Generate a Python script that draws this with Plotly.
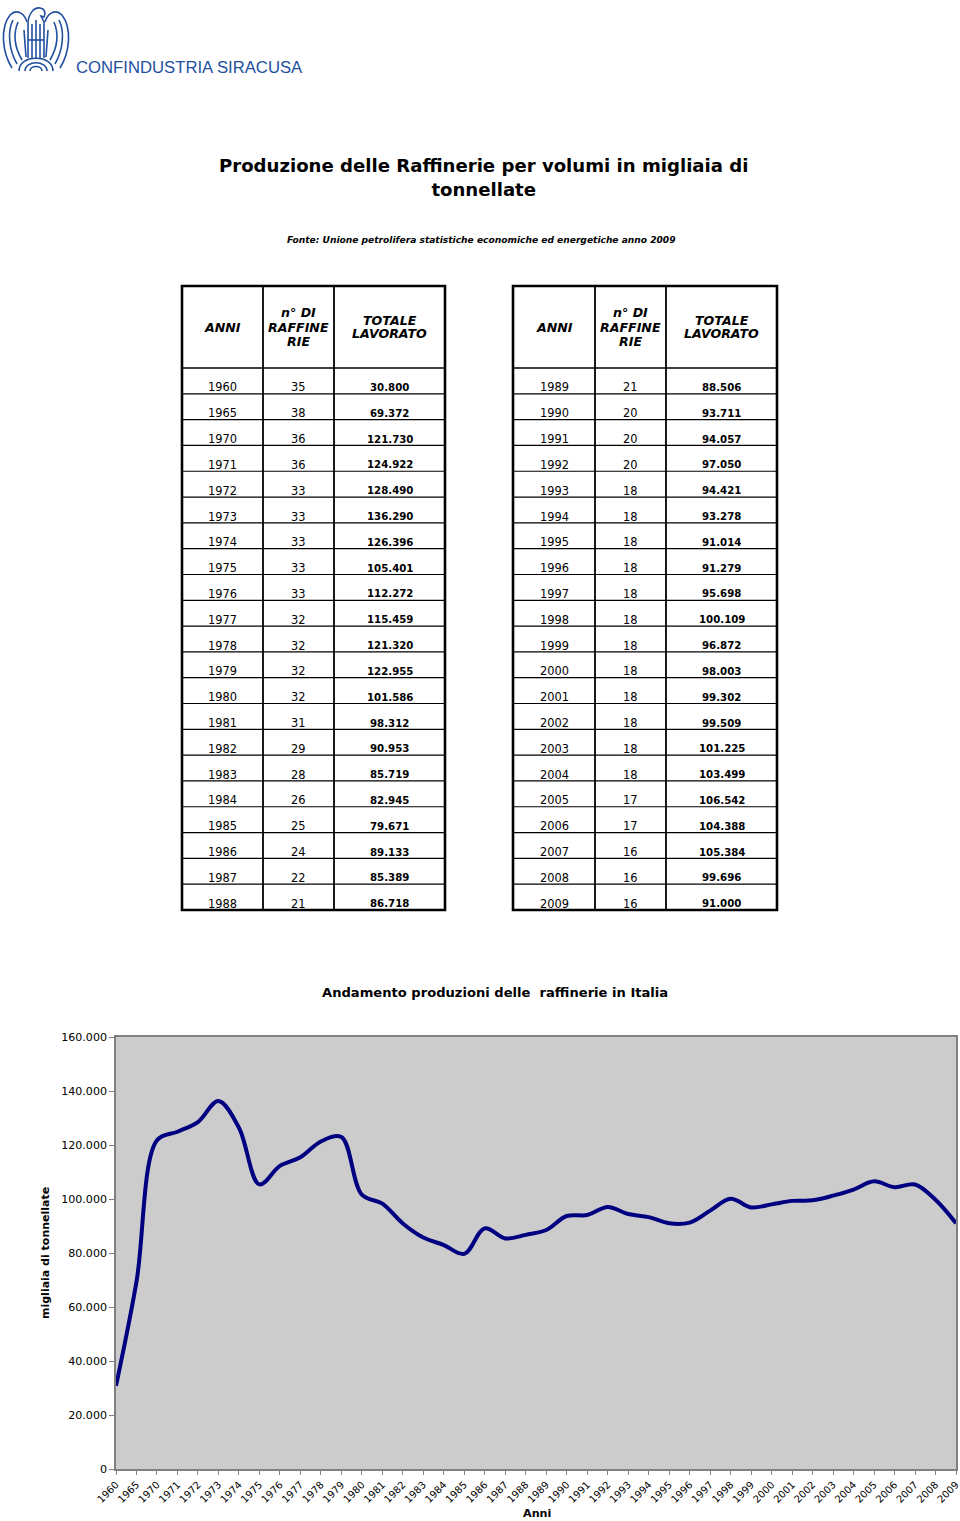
import plotly.graph_objects as go

W, H = 960, 1521

# ---------------- data ----------------
anni_sx = [1960, 1965, 1970, 1971, 1972, 1973, 1974, 1975, 1976, 1977, 1978,
           1979, 1980, 1981, 1982, 1983, 1984, 1985, 1986, 1987, 1988]
raff_sx = [35, 38, 36, 36, 33, 33, 33, 33, 33, 32, 32,
           32, 32, 31, 29, 28, 26, 25, 24, 22, 21]
tot_sx = [30800, 69372, 121730, 124922, 128490, 136290, 126396, 105401, 112272, 115459, 121320,
          122955, 101586, 98312, 90953, 85719, 82945, 79671, 89133, 85389, 86718]

anni_dx = [1989, 1990, 1991, 1992, 1993, 1994, 1995, 1996, 1997, 1998, 1999,
           2000, 2001, 2002, 2003, 2004, 2005, 2006, 2007, 2008, 2009]
raff_dx = [21, 20, 20, 20, 18, 18, 18, 18, 18, 18, 18,
           18, 18, 18, 18, 18, 17, 17, 16, 16, 16]
tot_dx = [88506, 93711, 94057, 97050, 94421, 93278, 91014, 91279, 95698, 100109, 96872,
          98003, 99302, 99509, 101225, 103499, 106542, 104388, 105384, 99696, 91000]

header_lines = [["ANNI"], ["n° DI", "RAFFINE", "RIE"], ["TOTALE", "LAVORATO"]]

y_ticks = [0, 20000, 40000, 60000, 80000, 100000, 120000, 140000, 160000]

FONT = "DejaVu Sans, Verdana, sans-serif"


def fx(px):
    return px / W


def fy(py):
    return 1 - py / H


def fmt(v):
    return f"{v:,}".replace(",", ".")


fig = go.Figure()
shapes = []
ann = []


def hline(x0, x1, y, w):
    shapes.append(dict(type="line", xref="paper", yref="paper", x0=fx(x0), x1=fx(x1),
                       y0=fy(y), y1=fy(y), line=dict(color="black", width=w)))


def vline(x, y0, y1, w):
    shapes.append(dict(type="line", xref="paper", yref="paper", x0=fx(x), x1=fx(x),
                       y0=fy(y0), y1=fy(y1), line=dict(color="black", width=w)))


def text(t, x, y, size, xanchor="center", color="black", family=FONT, angle=0):
    ann.append(dict(text=t, x=fx(x), y=fy(y), xref="paper", yref="paper", showarrow=False,
                    xanchor=xanchor, yanchor="middle", textangle=angle,
                    font=dict(family=family, size=size, color=color)))


# ---------------- tables ----------------
TOP, HEAD_BOT, BOT = 286, 368, 910


def add_table(cols, anni, raff, tot):
    n = len(anni)
    rh = (BOT - HEAD_BOT) / n
    x0, x1 = cols[0], cols[-1]
    for i in range(1, n):
        hline(x0, x1, HEAD_BOT + i * rh, 1.2)
    hline(x0, x1, HEAD_BOT, 1.6)
    for c in cols[1:-1]:
        vline(c, TOP, BOT, 1.8)
    shapes.append(dict(type="rect", xref="paper", yref="paper", x0=fx(x0), x1=fx(x1),
                       y0=fy(BOT), y1=fy(TOP), line=dict(color="black", width=2.6)))
    hc = (TOP + HEAD_BOT) / 2
    for j, lines in enumerate(header_lines):
        cx = (cols[j] + cols[j + 1]) / 2
        k = len(lines)
        for m, ln in enumerate(lines):
            yy = hc + (m - (k - 1) / 2) * 14
            text(f"<b><i>{ln}</i></b>", cx, yy, 12.6)
    for i in range(n):
        yy = HEAD_BOT + i * rh + 19.5
        text(str(anni[i]), (cols[0] + cols[1]) / 2, yy, 11.4)
        text(str(raff[i]), (cols[1] + cols[2]) / 2, yy, 11.4)
        text("<b>" + fmt(tot[i]) + "</b>", (cols[2] + cols[3]) / 2, yy, 10.2)


add_table([182, 263, 334, 445], anni_sx, raff_sx, tot_sx)
add_table([513, 595, 666, 777], anni_dx, raff_dx, tot_dx)

# ---------------- line chart ----------------
anni_all = [str(a) for a in anni_sx + anni_dx]
tot_all = tot_sx + tot_dx

fig.add_trace(go.Scatter(
    x=anni_all, y=tot_all, mode="lines",
    line=dict(color="#000080", width=4, shape="spline", smoothing=1),
    hoverinfo="x+y", showlegend=False,
))

fig.update_layout(
    width=W, height=H,
    margin=dict(l=0, r=0, t=0, b=0, autoexpand=False),
    paper_bgcolor="white",
    plot_bgcolor="#cccccc",
    showlegend=False,
    font=dict(family=FONT, color="black"),
    xaxis=dict(
        domain=[fx(116), fx(956)],
        type="category",
        range=[0, len(anni_all) - 1],
        tickangle=-45,
        ticks="outside", ticklen=4, tickcolor="#808080",
        tickfont=dict(size=10, family=FONT),
        showline=True, linecolor="#808080", linewidth=2, mirror=True,
        showgrid=False, zeroline=False, automargin=False,
    ),
    yaxis=dict(
        domain=[fy(1469), fy(1037)],
        range=[0, 160000],
        tickvals=y_ticks,
        ticktext=[fmt(v) for v in y_ticks],
        ticks="outside", ticklen=5, tickcolor="#808080",
        tickfont=dict(size=11.1, family=FONT),
        showline=True, linecolor="#808080", linewidth=1.5, mirror=True,
        showgrid=False, zeroline=False, automargin=False,
    ),
)

# ---------------- texts ----------------
text("CONFINDUSTRIA SIRACUSA", 74, 67, 16.7, xanchor="left", color="#22509f",
     family="Liberation Sans, Arial")
text("<b>Produzione delle Raffinerie per volumi in migliaia di<br>tonnellate</b>", 483, 178, 18.1)
text("<b><i>Fonte: Unione petrolifera statistiche economiche ed energetiche anno 2009</i></b>",
     481, 240, 9.1)
text("<b>Andamento produzioni delle  raffinerie in Italia</b>", 495, 992, 13.1)
text("<b>migliaia di tonnellate</b>", 45, 1253, 11, angle=-90)
text("<b>Anni</b>", 537, 1513, 11.2)


# ---------------- logo (simplified eagle) ----------------
def path(cmds):
    out = []
    for c in cmds:
        if isinstance(c, str):
            out.append(c)
        else:
            out.append(f"{fx(c[0]):.5f},{fy(c[1]):.5f}")
    return " ".join(out)


logo_col = "#22509f"
logo_paths = [
    ["M", (12, 68), "C", (2, 52), (0, 28), (10, 15), "C", (16, 9), (24, 12), (27, 22)],
    ["M", (17, 64), "C", (9, 50), (7, 32), (13, 20)],
    ["M", (22, 60), "C", (15, 48), (13, 34), (18, 22)],
    ["M", (26, 57), "L", (24, 30)],
    ["M", (60, 68), "C", (70, 52), (72, 28), (62, 15), "C", (56, 9), (48, 12), (45, 22)],
    ["M", (55, 64), "C", (63, 50), (65, 32), (59, 20)],
    ["M", (50, 60), "C", (57, 48), (59, 34), (54, 22)],
    ["M", (46, 57), "L", (48, 30)],
    ["M", (28, 58), "L", (28, 24), "C", (28, 14), (34, 7), (40, 8),
     "C", (45, 9), (46, 13), (44, 17), "L", (41, 16), "L", (44, 22), "L", (44, 58)],
    ["M", (32, 58), "L", (32, 24)],
    ["M", (36, 58), "L", (36, 20)],
    ["M", (40, 58), "L", (40, 24)],
    ["M", (28, 40), "L", (44, 40)],
    ["M", (30, 71), "C", (30, 65), (42, 65), (42, 71)],
    ["M", (25, 71), "C", (25, 60), (47, 60), (47, 71)],
    ["M", (19, 71), "C", (19, 54), (53, 54), (53, 71)],
]
for p in logo_paths:
    shapes.append(dict(type="path", xref="paper", yref="paper", path=path(p),
                       line=dict(color=logo_col, width=1.6)))

fig.update_layout(shapes=shapes, annotations=ann)
fig.write_html(
    "out.html",
    config={"displayModeBar": False},
    post_script="document.body.style.margin='0';document.body.style.overflow='hidden';",
)
